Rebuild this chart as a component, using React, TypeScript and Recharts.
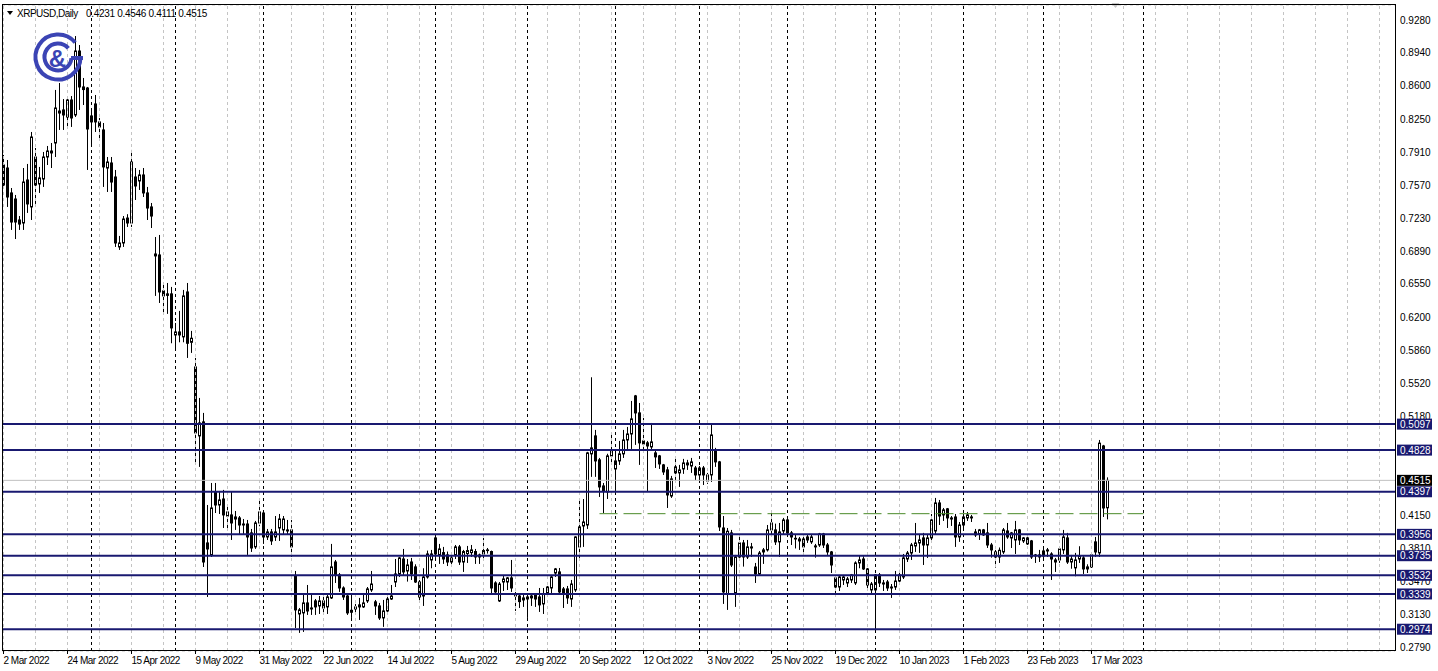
import React from 'react';
import { ComposedChart, Bar, XAxis, YAxis, CartesianGrid, ReferenceLine, ReferenceDot } from 'recharts';

// XRPUSD daily candles, 2 Mar 2022 .. 23 Mar 2023 (weekdays only)
const opens = [
  0.7779, 0.7748, 0.7490, 0.7427, 0.7210, 0.7179, 0.7624, 0.7345, 0.7862, 0.7583,
  0.7634, 0.7862, 0.7904, 0.8007, 0.8317, 0.8349, 0.8276, 0.8452, 0.8297, 0.8959,
  0.8587, 0.8576, 0.8287, 0.8411, 0.8225, 0.8142, 0.7748, 0.7800, 0.7655, 0.6931,
  0.6972, 0.7230, 0.7179, 0.7655, 0.7614, 0.7676, 0.7490, 0.7345, 0.6838, 0.6848,
  0.6476, 0.6445, 0.6445, 0.6020, 0.6051, 0.6000, 0.6465, 0.5944, 0.5689, 0.4975,
  0.5120, 0.3867, 0.3743, 0.4395, 0.4260, 0.4322, 0.4146, 0.4157, 0.4136, 0.4126,
  0.4063, 0.4063, 0.3971, 0.3826, 0.4074, 0.4177, 0.3929, 0.3981, 0.3929, 0.4022,
  0.4002, 0.4002, 0.4002, 0.3525, 0.3132, 0.3143, 0.3246, 0.3194, 0.3267, 0.3215,
  0.3267, 0.3205, 0.3298, 0.3670, 0.3536, 0.3401, 0.3318, 0.3170, 0.3184, 0.3226,
  0.3205, 0.3267, 0.3381, 0.3257, 0.3215, 0.3091, 0.3163, 0.3287, 0.3463, 0.3546,
  0.3701, 0.3577, 0.3670, 0.3619, 0.3463, 0.3318, 0.3515, 0.3691, 0.3919, 0.3743,
  0.3767, 0.3743, 0.3670, 0.3743, 0.3826, 0.3670, 0.3757, 0.3767, 0.3778, 0.3722,
  0.3753, 0.3788, 0.3778, 0.3453, 0.3267, 0.3463, 0.3463, 0.3505, 0.3339, 0.3318,
  0.3277, 0.3287, 0.3318, 0.3329, 0.3308, 0.3236, 0.3349, 0.3401, 0.3556, 0.3567,
  0.3391, 0.3391, 0.3287, 0.3381, 0.3826, 0.4043, 0.4053, 0.4789, 0.4975, 0.4727,
  0.4457, 0.4395, 0.4768, 0.4633, 0.4716, 0.4789, 0.4933, 0.4995, 0.5389, 0.5213,
  0.4923, 0.4903, 0.4861, 0.4799, 0.4768, 0.4675, 0.4623, 0.4353, 0.4654, 0.4592,
  0.4633, 0.4695, 0.4664, 0.4643, 0.4571, 0.4643, 0.4509, 0.4571, 0.4830, 0.4706,
  0.4022, 0.3339, 0.3971, 0.3349, 0.3722, 0.3867, 0.3722, 0.3826, 0.3618, 0.3546,
  0.3774, 0.3795, 0.4002, 0.4002, 0.3878, 0.3991, 0.4105, 0.3971, 0.3915, 0.3908,
  0.3908, 0.3929, 0.3878, 0.3836, 0.3846, 0.3960, 0.3846, 0.3774, 0.3505, 0.3411,
  0.3484, 0.3453, 0.3484, 0.3453, 0.3660, 0.3701, 0.3598, 0.3381, 0.3381, 0.3536,
  0.3453, 0.3463, 0.3401, 0.3411, 0.3473, 0.3515, 0.3701, 0.3763, 0.3836, 0.3867,
  0.3919, 0.3846, 0.3919, 0.3991, 0.4281, 0.4157, 0.4220, 0.4126, 0.4136, 0.3929,
  0.4053, 0.4126, 0.4136, 0.3981, 0.3960, 0.4002, 0.3971, 0.3846, 0.3774, 0.3722,
  0.3774, 0.3991, 0.3919, 0.3898, 0.4002, 0.3888, 0.3919, 0.3888, 0.3743, 0.3743,
  0.3733, 0.3784, 0.3753, 0.3670, 0.3691, 0.3795, 0.3919, 0.3670, 0.3609, 0.3701,
  0.3712, 0.3598, 0.3619, 0.3878, 0.3764, 0.4871, 0.4231,
];

const highs = [
  0.7883, 0.7831, 0.7541, 0.7469, 0.7251, 0.7748, 0.7790, 0.8121, 0.7955, 0.7759,
  0.7914, 0.7976, 0.8007, 0.8556, 0.8628, 0.8462, 0.8483, 0.8493, 0.9114, 0.9021,
  0.8680, 0.8587, 0.8349, 0.8504, 0.8266, 0.8214, 0.7862, 0.7862, 0.7728, 0.7045,
  0.7251, 0.7270, 0.7935, 0.7748, 0.7728, 0.7748, 0.7552, 0.7386, 0.7034, 0.7055,
  0.6558, 0.6558, 0.6517, 0.6144, 0.6269, 0.6486, 0.6558, 0.6062, 0.5782, 0.5368,
  0.5213, 0.4260, 0.4488, 0.4488, 0.4405, 0.4416, 0.4260, 0.4395, 0.4198, 0.4146,
  0.4115, 0.4105, 0.4012, 0.4095, 0.4327, 0.4198, 0.4012, 0.4012, 0.4146, 0.4167,
  0.4146, 0.4105, 0.4105, 0.3577, 0.3194, 0.3329, 0.3432, 0.3349, 0.3287, 0.3318,
  0.3308, 0.3329, 0.3857, 0.3691, 0.3556, 0.3418, 0.3349, 0.3324, 0.3236, 0.3298,
  0.3349, 0.3411, 0.3577, 0.3277, 0.3246, 0.3277, 0.3308, 0.3432, 0.3701, 0.3722,
  0.3805, 0.3701, 0.3712, 0.3646, 0.3484, 0.3605, 0.3788, 0.3795, 0.3936, 0.3857,
  0.3826, 0.3778, 0.3757, 0.3846, 0.3846, 0.3795, 0.3836, 0.3846, 0.3805, 0.3757,
  0.3919, 0.3815, 0.3788, 0.3470, 0.3463, 0.3525, 0.3515, 0.3691, 0.3360, 0.3339,
  0.3329, 0.3329, 0.3349, 0.3339, 0.3401, 0.3401, 0.3422, 0.3536, 0.3608, 0.3608,
  0.3411, 0.3422, 0.3484, 0.3936, 0.4312, 0.4322, 0.4810, 0.5582, 0.5037, 0.4747,
  0.4488, 0.4790, 0.5006, 0.4830, 0.4923, 0.5037, 0.5068, 0.5337, 0.5399, 0.5316,
  0.5161, 0.4923, 0.5109, 0.4820, 0.4778, 0.4685, 0.4654, 0.4561, 0.4737, 0.4675,
  0.4737, 0.4727, 0.4747, 0.4664, 0.4664, 0.4664, 0.4592, 0.5088, 0.4851, 0.4716,
  0.4146, 0.4022, 0.4002, 0.3743, 0.3929, 0.3898, 0.3898, 0.3867, 0.3660, 0.3784,
  0.3815, 0.4053, 0.4177, 0.4067, 0.4074, 0.4126, 0.4115, 0.3991, 0.3950, 0.3929,
  0.3929, 0.3950, 0.3950, 0.3857, 0.3971, 0.3971, 0.3867, 0.3784, 0.3515, 0.3536,
  0.3536, 0.3515, 0.3546, 0.3677, 0.3732, 0.3729, 0.3608, 0.3463, 0.3546, 0.3556,
  0.3484, 0.3484, 0.3442, 0.3577, 0.3588, 0.3753, 0.3784, 0.3867, 0.4074, 0.3960,
  0.3971, 0.3960, 0.4167, 0.4333, 0.4312, 0.4229, 0.4229, 0.4146, 0.4167, 0.4084,
  0.4167, 0.4188, 0.4157, 0.4012, 0.4012, 0.4012, 0.4074, 0.3867, 0.3795, 0.3820,
  0.4022, 0.4074, 0.3981, 0.4095, 0.4012, 0.3929, 0.3929, 0.3898, 0.3753, 0.3795,
  0.3805, 0.3815, 0.3771, 0.3712, 0.3826, 0.4002, 0.3971, 0.3743, 0.3764, 0.3833,
  0.3733, 0.3646, 0.3764, 0.3929, 0.4933, 0.4882, 0.4546,
];

const lows = [
  0.7552, 0.7345, 0.7107, 0.7013, 0.7107, 0.7107, 0.7283, 0.7210, 0.7376, 0.7490,
  0.7552, 0.7779, 0.7748, 0.7862, 0.8142, 0.8142, 0.8162, 0.8173, 0.8276, 0.8349,
  0.8400, 0.7728, 0.7986, 0.8121, 0.8038, 0.7552, 0.7500, 0.7500, 0.6931, 0.6900,
  0.6931, 0.7138, 0.7138, 0.7417, 0.7521, 0.7448, 0.7210, 0.7127, 0.6424, 0.6351,
  0.6248, 0.6238, 0.5934, 0.5875, 0.5944, 0.5944, 0.5782, 0.5834, 0.4675, 0.4654,
  0.3618, 0.3308, 0.3722, 0.4177, 0.4167, 0.4022, 0.4002, 0.3898, 0.4002, 0.3960,
  0.3950, 0.3743, 0.3774, 0.3805, 0.4040, 0.3857, 0.3898, 0.3846, 0.3888, 0.3888,
  0.3950, 0.3950, 0.3722, 0.2987, 0.2936, 0.2946, 0.3122, 0.3122, 0.3122, 0.3132,
  0.3122, 0.3132, 0.3287, 0.3453, 0.3360, 0.3277, 0.3122, 0.3091, 0.3122, 0.3070,
  0.3194, 0.3246, 0.3360, 0.3122, 0.3070, 0.2998, 0.3153, 0.3277, 0.3411, 0.3515,
  0.3536, 0.3467, 0.3484, 0.3453, 0.3246, 0.3215, 0.3498, 0.3605, 0.3712, 0.3650,
  0.3650, 0.3628, 0.3622, 0.3701, 0.3639, 0.3567, 0.3660, 0.3722, 0.3650, 0.3650,
  0.3691, 0.3757, 0.3349, 0.3349, 0.3256, 0.3370, 0.3380, 0.3360, 0.3163, 0.3194,
  0.3205, 0.3091, 0.3215, 0.3205, 0.3153, 0.3132, 0.3329, 0.3349, 0.3515, 0.3339,
  0.3194, 0.3236, 0.3205, 0.3360, 0.3712, 0.3826, 0.4012, 0.4551, 0.4551, 0.4343,
  0.4177, 0.4322, 0.4675, 0.4405, 0.4675, 0.4747, 0.4840, 0.4840, 0.4882, 0.4675,
  0.4830, 0.4395, 0.4830, 0.4643, 0.4633, 0.4571, 0.4229, 0.4333, 0.4488, 0.4447,
  0.4582, 0.4623, 0.4592, 0.4519, 0.4488, 0.4467, 0.4478, 0.4499, 0.4654, 0.3991,
  0.3236, 0.3174, 0.3618, 0.3205, 0.3712, 0.3622, 0.3701, 0.3722, 0.3453, 0.3525,
  0.3650, 0.3778, 0.3950, 0.3846, 0.3722, 0.3960, 0.3950, 0.3846, 0.3810, 0.3795,
  0.3753, 0.3867, 0.3857, 0.3715, 0.3826, 0.3815, 0.3743, 0.3556, 0.3329, 0.3370,
  0.3432, 0.3411, 0.3453, 0.3432, 0.3605, 0.3588, 0.3380, 0.3349, 0.2967, 0.3411,
  0.3370, 0.3370, 0.3298, 0.3381, 0.3453, 0.3494, 0.3670, 0.3691, 0.3774, 0.3764,
  0.3639, 0.3712, 0.3878, 0.3950, 0.4053, 0.4095, 0.4022, 0.4043, 0.3826, 0.3878,
  0.4002, 0.4095, 0.4084, 0.3929, 0.3898, 0.3940, 0.3815, 0.3715, 0.3612, 0.3660,
  0.3753, 0.3910, 0.3815, 0.3753, 0.3846, 0.3867, 0.3846, 0.3701, 0.3660, 0.3670,
  0.3701, 0.3722, 0.3484, 0.3567, 0.3660, 0.3753, 0.3650, 0.3600, 0.3522, 0.3660,
  0.3546, 0.3556, 0.3608, 0.3722, 0.3722, 0.4136, 0.4111,
];

const closes = [
  0.7572, 0.7448, 0.7189, 0.7189, 0.7168, 0.7603, 0.7376, 0.8069, 0.7572, 0.7645,
  0.7862, 0.7924, 0.7924, 0.8369, 0.8338, 0.8297, 0.8452, 0.8266, 0.8959, 0.8587,
  0.8560, 0.8152, 0.8225, 0.8225, 0.8173, 0.7759, 0.7810, 0.7603, 0.6972, 0.6972,
  0.7220, 0.7179, 0.7810, 0.7562, 0.7676, 0.7490, 0.7334, 0.7251, 0.6858, 0.6465,
  0.6424, 0.6430, 0.6093, 0.6051, 0.6020, 0.6424, 0.5934, 0.5986, 0.5006, 0.5109,
  0.3670, 0.3805, 0.4229, 0.4260, 0.4312, 0.4157, 0.4188, 0.4074, 0.4115, 0.4053,
  0.4053, 0.3929, 0.3815, 0.4074, 0.4188, 0.3929, 0.3981, 0.3888, 0.3981, 0.4115,
  0.4115, 0.3991, 0.3826, 0.3174, 0.3174, 0.3246, 0.3163, 0.3184, 0.3205, 0.3267,
  0.3194, 0.3308, 0.3619, 0.3536, 0.3401, 0.3308, 0.3143, 0.3150, 0.3205, 0.3205,
  0.3246, 0.3391, 0.3442, 0.3215, 0.3091, 0.3163, 0.3287, 0.3318, 0.3546, 0.3712,
  0.3567, 0.3639, 0.3546, 0.3463, 0.3308, 0.3515, 0.3753, 0.3753, 0.3753, 0.3805,
  0.3701, 0.3670, 0.3712, 0.3826, 0.3670, 0.3778, 0.3788, 0.3795, 0.3722, 0.3743,
  0.3788, 0.3795, 0.3401, 0.3360, 0.3442, 0.3494, 0.3505, 0.3401, 0.3318, 0.3260,
  0.3298, 0.3308, 0.3298, 0.3287, 0.3226, 0.3339, 0.3411, 0.3515, 0.3598, 0.3360,
  0.3339, 0.3298, 0.3442, 0.3929, 0.4033, 0.4084, 0.4799, 0.4851, 0.4716, 0.4447,
  0.4405, 0.4768, 0.4830, 0.4716, 0.4789, 0.4933, 0.4995, 0.5151, 0.5213, 0.4903,
  0.4892, 0.4871, 0.4913, 0.4758, 0.4685, 0.4602, 0.4364, 0.4530, 0.4592, 0.4623,
  0.4695, 0.4675, 0.4706, 0.4571, 0.4643, 0.4571, 0.4571, 0.4985, 0.4706, 0.4033,
  0.3360, 0.3988, 0.3639, 0.3722, 0.3867, 0.3722, 0.3826, 0.3815, 0.3546, 0.3763,
  0.3795, 0.4002, 0.4074, 0.3878, 0.3981, 0.4105, 0.3971, 0.3929, 0.3908, 0.3888,
  0.3826, 0.3898, 0.3929, 0.3826, 0.3960, 0.3846, 0.3774, 0.3639, 0.3411, 0.3515,
  0.3515, 0.3494, 0.3536, 0.3660, 0.3691, 0.3598, 0.3432, 0.3442, 0.3536, 0.3453,
  0.3442, 0.3401, 0.3411, 0.3473, 0.3536, 0.3712, 0.3763, 0.3846, 0.3867, 0.3898,
  0.3846, 0.3919, 0.4105, 0.4281, 0.4146, 0.4209, 0.4126, 0.4115, 0.3929, 0.4053,
  0.4136, 0.4157, 0.4126, 0.3950, 0.4002, 0.3950, 0.3846, 0.3795, 0.3722, 0.3791,
  0.4002, 0.3929, 0.3971, 0.4002, 0.3898, 0.3919, 0.3857, 0.3722, 0.3733, 0.3722,
  0.3784, 0.3795, 0.3701, 0.3691, 0.3805, 0.3929, 0.3670, 0.3701, 0.3691, 0.3733,
  0.3598, 0.3619, 0.3743, 0.3774, 0.4900, 0.4229, 0.4515,
];

// bottom axis labels (bar index -> date)
const dateTicks = [0, 16, 32, 48, 64, 80, 96, 112, 128, 144, 160, 176, 192, 208, 224, 240, 256, 272];
const dateLabels = [
  '2 Mar 2022', '24 Mar 2022', '15 Apr 2022', '9 May 2022', '31 May 2022', '22 Jun 2022',
  '14 Jul 2022', '5 Aug 2022', '29 Aug 2022', '20 Sep 2022', '12 Oct 2022', '3 Nov 2022',
  '25 Nov 2022', '19 Dec 2022', '10 Jan 2023', '1 Feb 2023', '23 Feb 2023', '17 Mar 2023',
];

// right price scale
const priceTicks = [
  0.928, 0.894, 0.86, 0.825, 0.791, 0.757, 0.723, 0.689, 0.655, 0.62,
  0.586, 0.552, 0.518, 0.484, 0.45, 0.415, 0.381, 0.347, 0.313, 0.279,
];
const coveredTicks = [0.484, 0.45];

// horizontal support / resistance levels
const levels = [0.5097, 0.4828, 0.4397, 0.3956, 0.3735, 0.3532, 0.3339, 0.2974];
const lastPrice = 0.4515;
const dashedLevel = 0.417;
const dashedFrom = 149;
const dashedTo = 285;

// first bar of each month (period separators)
const monthStarts = [22, 43, 65, 87, 108, 131, 153, 174, 196, 218, 240, 260, 285];

const gridBars = Array.from({ length: 44 }, (_, k) => k * 8);

const rows = opens.map((o, i) => ({ i, o, h: highs[i], l: lows[i], c: closes[i] }));

const FONT = '"Liberation Sans", Arial, sans-serif';
const NAVY = '#191970';
const LOGO = '#3b44b4';
const last = rows.length - 1;

function Candle(props: any) {
  const { x, y, width, height, payload } = props;
  if (x == null || y == null || !payload) return null;
  const top = Math.min(y, y + height);
  const bottom = Math.max(y, y + height);
  const span = payload.h - payload.l;
  const toY = (p: number) => (span > 0 ? top + ((payload.h - p) / span) * (bottom - top) : top);
  const cx = Math.round(x + width / 2 - 0.5) + 0.5;
  const yo = toY(payload.o);
  const yc = toY(payload.c);
  const bull = payload.c >= payload.o;
  const bTop = Math.min(yo, yc);
  const bBot = Math.max(yo, yc);
  return (
    <g>
      <line x1={cx} x2={cx} y1={top} y2={bottom} stroke="#000" strokeWidth={1} />
      <rect
        x={cx - 1}
        y={bTop}
        width={2}
        height={Math.max(bBot - bTop, 0.01)}
        fill={bull ? '#fff' : '#000'}
        stroke="#000"
        strokeWidth={1}
      />
    </g>
  );
}

// boxed price on the right scale (levels and last price)
function PriceTag({ viewBox, value, bg }: any) {
  if (!viewBox) return null;
  const left = viewBox.x + viewBox.width + 2;
  const y = viewBox.y;
  return (
    <g>
      <rect x={left} y={y - 5.5} width={35} height={11} fill={bg} />
      <text x={left + 3} y={y + 3.6} fill="#fff" fontSize={10} fontFamily={FONT}>
        {value.toFixed(4)}
      </text>
    </g>
  );
}

// plain scale label, drawn in the reference layer so the boxed tags sit on top of it
function ScaleLabel({ viewBox, value }: any) {
  if (!viewBox) return null;
  return (
    <text x={viewBox.x + viewBox.width + 5} y={viewBox.y + 3.6} fill="#000" fontSize={10} fontFamily={FONT}>
      {value.toFixed(4)}
    </text>
  );
}

function DateTick(props: any) {
  const { x, y, payload } = props;
  const k = dateTicks.indexOf(payload.value);
  return (
    <text x={x} y={y} dy={8} fontSize={10} fontFamily={FONT} letterSpacing={-0.5} fill="#000" textAnchor="start">
      {dateLabels[k]}
    </text>
  );
}

function arc(cx: number, cy: number, r: number, a0: number, a1: number) {
  const p = (a: number) => [cx + r * Math.cos((a * Math.PI) / 180), cy + r * Math.sin((a * Math.PI) / 180)];
  const [x0, y0] = p(a0);
  const [x1, y1] = p(a1);
  return `M${x0} ${y0} A${r} ${r} 0 1 0 ${x1} ${y1}`;
}

export default function App() {
  const ohlc = [opens[last], highs[last], lows[last], closes[last]].map((v) => v.toFixed(4)).join(' ');
  return (
    <div style={{ position: 'absolute', left: 0, top: 0, width: 1438, height: 671, background: '#fff', overflow: 'hidden' }}>
      <ComposedChart width={1438} height={671} data={rows} margin={{ top: 5, right: 0, bottom: 0, left: 2 }}>
        <CartesianGrid horizontal vertical={false} stroke="#c4c4c4" strokeDasharray="3 3" />
        {gridBars.map((g) => (
          <ReferenceLine key={`g${g}`} x={g} stroke="#c4c4c4" strokeDasharray="3 3" />
        ))}
        {monthStarts.map((m) => (
          <ReferenceLine key={`m${m}`} x={m} stroke="#000" strokeDasharray="3 3" />
        ))}
        <ReferenceLine y={lastPrice} stroke="#c0c0c0" />
        <ReferenceLine
          segment={[{ x: dashedFrom, y: dashedLevel }, { x: dashedTo, y: dashedLevel }]}
          stroke="#4a8a2a"
          strokeDasharray="18 6"
        />
        <XAxis
          type="number"
          dataKey="i"
          domain={[-0.375, 347.875]}
          allowDataOverflow
          ticks={dateTicks}
          interval={0}
          height={20}
          axisLine={false}
          tickLine={{ stroke: '#000' }}
          tickSize={3}
          tickMargin={2}
          tick={<DateTick />}
        />
        <YAxis
          orientation="right"
          type="number"
          domain={[0.27486, 0.94353]}
          allowDataOverflow
          ticks={priceTicks}
          interval={0}
          width={43}
          axisLine={false}
          tickLine={{ stroke: '#000' }}
          tickSize={3}
          tick={false}
        />
        <Bar
          dataKey={(d: any) => [d.l, d.h]}
          barSize={3}
          isAnimationActive={false}
          shape={(p: any) => <Candle {...p} />}
        />
        {priceTicks
          .filter((t) => !coveredTicks.includes(t))
          .map((t) => (
            <ReferenceLine
              key={`t${t}`}
              y={t}
              stroke="none"
              label={(p: any) => <ScaleLabel {...p} value={t} />}
            />
          ))}
        {levels.map((lv) => (
          <ReferenceLine
            key={`l${lv}`}
            y={lv}
            stroke={NAVY}
            strokeWidth={2}
            label={(p: any) => <PriceTag {...p} value={lv} bg={NAVY} />}
          />
        ))}
        <ReferenceLine y={lastPrice} stroke="none" label={(p: any) => <PriceTag {...p} value={lastPrice} bg="#000" />} />
        <ReferenceDot
          x={278}
          y={0.94353}
          ifOverflow="visible"
          shape={(p: any) => (
            <polygon points={`${p.cx - 4},${p.cy - 2} ${p.cx + 4},${p.cy - 2} ${p.cx},${p.cy + 3}`} fill="#c8c8c8" />
          )}
        />
      </ComposedChart>
      <div
        style={{
          position: 'absolute',
          left: 2,
          top: 4,
          width: 1394,
          height: 647,
          border: '1px solid #000',
          boxSizing: 'border-box',
          pointerEvents: 'none',
        }}
      />
      <svg width={1438} height={671} style={{ position: 'absolute', left: 0, top: 0, pointerEvents: 'none' }}>
        <polygon points="7,11 13,11 10,15" fill="#000" />
        <text x={17} y={16.5} fontSize={10} fontFamily={FONT} letterSpacing={-0.5} fill="#000">
          XRPUSD,Daily
        </text>
        <text x={86} y={16.5} fontSize={10} fontFamily={FONT} letterSpacing={-0.3} fill="#000">
          {ohlc}
        </text>
        <g fill="none" stroke={LOGO} strokeWidth={4}>
          <path d={arc(58, 57, 22.5, -40, 0)} />
          <path d={arc(58, 57, 13.5, -40, 5)} />
          <line x1={71} y1={58} x2={83} y2={58} />
        </g>
        <text x={57.5} y={67} textAnchor="middle" fontSize={24} fontWeight="bold" fontFamily={FONT} fill={LOGO}>
          &amp;
        </text>
      </svg>
    </div>
  );
}
